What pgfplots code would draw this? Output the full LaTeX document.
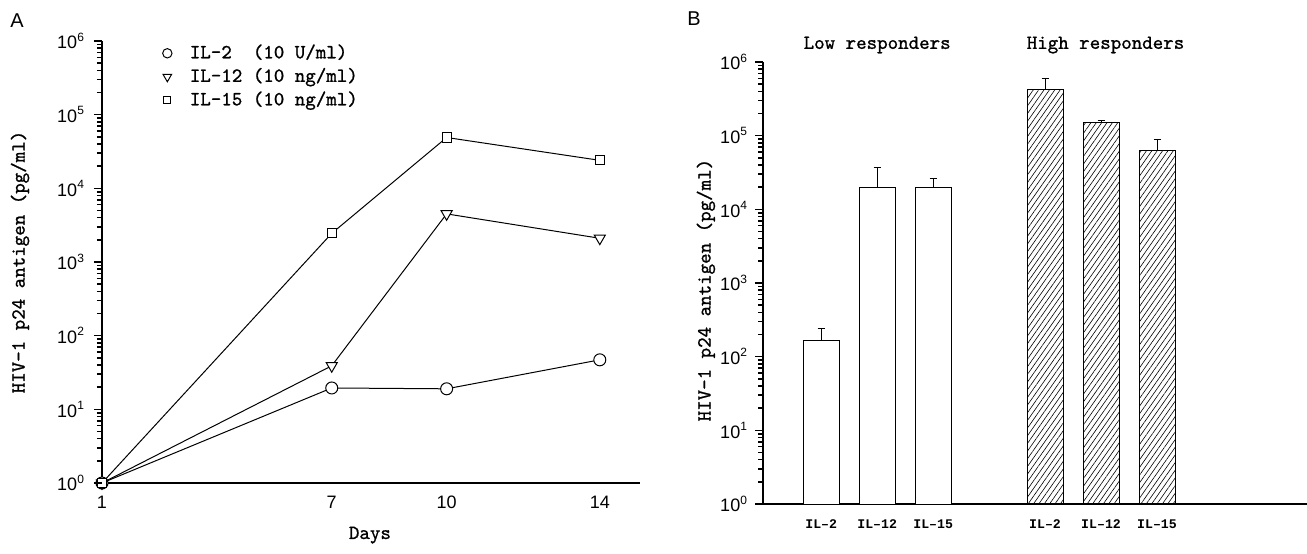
\documentclass[border=0pt]{standalone}
\usepackage{fontspec}
\setsansfont{Liberation Sans}
\newfontfamily\ilfont{Liberation Mono}
\newfontfamily\labfam{Latin Modern Mono}[FakeBold=1]
\usepackage{pgfplots}
\pgfplotsset{compat=1.18}
\usetikzlibrary{patterns.meta}

\newcommand{\labfont}{\fontsize{10}{12}\selectfont\labfam}
\newcommand{\numfont}{\fontsize{9}{10}\selectfont\sffamily}
\newcommand{\ilf}{\fontsize{6.6}{7}\selectfont\ilfont\bfseries}
\newcommand{\dec}[1]{10\textsuperscript{#1}}

% log tick comb on a y axis at (x0, bottom y0), height h (all in pt)
\newcommand{\logcomb}[3]{%
  \foreach \e in {0,...,5} {\foreach \m in {2,...,9} {%
    \pgfmathsetmacro\yy{#2+#3*(\e+ln(\m)/ln(10))/6}%
    \draw[line width=0.6pt] (#1pt,\yy pt) -- ++(-2.5pt,0);}}%
  \foreach \e in {0,...,6} {%
    \pgfmathsetmacro\yy{#2+#3*\e/6}%
    \draw[line width=0.7pt] (#1pt,\yy pt) -- ++(-4pt,0);}%
}

\pgfplotsset{
  legend image code/.code={%
    \draw[#1, only marks, every mark/.append style={scale=0.78}] plot coordinates {(0pt,0pt)};
    \path (0pt,0pt) (10pt,0pt);},
  every tick/.style={black, line width=0.8pt},
  every x tick/.style={draw=none},
}

\begin{document}
\begin{tikzpicture}
\useasboundingbox (0,0) rectangle (653.5pt,-276.5pt);

\node[font=\sffamily\fontsize{10}{10}\selectfont] at (8.5pt,-10.5pt) {A};
\node[font=\sffamily\fontsize{10}{10}\selectfont] at (347pt,-9.5pt) {B};

% ---------- panel A ----------
\begin{axis}[
    at={(51pt,-241.5pt)}, anchor=south west,
    scale only axis, width=269pt, height=221pt,
    ymode=log, ymin=1, ymax=1e6,
    xmin=1, xmax=15.05,
    axis x line=bottom, axis y line=left,
    axis line style={-, line width=0.6pt},
    clip=false,
    ytick={1,10,100,1000,10000,100000,1000000},
    yticklabels={\dec{0},\dec{1},\dec{2},\dec{3},\dec{4},\dec{5},\dec{6}},
    minor ytick={2,3,4,5,6,7,8,9,20,30,40,50,60,70,80,90,200,300,400,500,600,700,800,900,
      2000,3000,4000,5000,6000,7000,8000,9000,20000,30000,40000,50000,60000,70000,80000,90000,
      200000,300000,400000,500000,600000,700000,800000,900000},
    tick align=outside,
    major tick length=4pt, minor tick length=2.5pt,
    yticklabel style={font=\numfont, xshift=-1pt},
    xtick={1,7,10,14},
    xticklabels={1,7,10,14},
    xticklabel style={font=\numfont, anchor=north, yshift=1pt},
    xlabel={Days},
    xlabel style={font=\labfont, at={(axis description cs:0.498,-0.118)}, anchor=center},
    ylabel={HIV–1 p24 antigen (pg/ml)},
    ylabel style={font=\labfont, at={(axis description cs:-0.1524,0.5)}, anchor=center},
    legend style={draw=none, fill=none, font=\labfont,
      at={(axis description cs:0.112,0.998)}, anchor=north west,
      row sep=0.75pt, inner sep=0pt,
      nodes={inner sep=1pt, text height=7pt, text depth=2pt}},
    legend cell align=left,
  ]
\addplot[black, line width=0.5pt, mark=*, mark options={fill=white, mark size=3pt}]
  coordinates {(1,1) (7,19.5) (10,19) (14,47)};
\addplot[black, line width=0.5pt, mark=triangle*, mark options={fill=white, rotate=180, mark size=3.2pt}]
  coordinates {(1,1) (7,39) (10,4500) (14,2100)};
\addplot[black, line width=0.5pt, mark=square*, mark options={fill=white, mark size=2.3pt}]
  coordinates {(1,1) (7,2450) (10,49000) (14,24000)};
\legend{IL–2\ \ (10 U/ml), IL–12 (10 ng/ml), IL–15 (10 ng/ml)}
\end{axis}
\logcomb{51}{-241.5}{221}

% ---------- panel B ----------
\begin{axis}[
    at={(381.5pt,-252pt)}, anchor=south west,
    scale only axis, width=272pt, height=221pt,
    ymode=log, ymin=1, ymax=1e6,
    xmin=-1.04, xmax=8.68,
    axis x line=bottom, axis y line=left,
    axis line style={-, line width=0.6pt},
    clip=false,
    ytick={1,10,100,1000,10000,100000,1000000},
    yticklabels={\dec{0},\dec{1},\dec{2},\dec{3},\dec{4},\dec{5},\dec{6}},
    minor ytick={2,3,4,5,6,7,8,9,20,30,40,50,60,70,80,90,200,300,400,500,600,700,800,900,
      2000,3000,4000,5000,6000,7000,8000,9000,20000,30000,40000,50000,60000,70000,80000,90000,
      200000,300000,400000,500000,600000,700000,800000,900000},
    tick align=outside,
    major tick length=4pt, minor tick length=2.5pt,
    yticklabel style={font=\numfont},
    ybar, bar width=18pt, bar shift=0pt,
    xtick={0,1,2,4,5,6},
    xticklabels={IL–2,IL–12,IL–15,IL–2,IL–12,IL–15},
    xticklabel style={font=\ilf, anchor=north, yshift=-0.5pt},
    ylabel={HIV–1 p24 antigen (pg/ml)},
    ylabel style={font=\labfont, at={(axis description cs:-0.105,0.484)}, anchor=center},
  ]
\addplot[draw=black, fill=white, line width=0.5pt,
    error bars/.cd, y dir=plus, y explicit,
    error bar style={line width=0.5pt, black},
    error mark options={rotate=90, mark size=1.75pt, line width=0.5pt, black}]
  coordinates {(0,168) +- (0,77) (1,19500) +- (0,17500) (2,20000) +- (0,6500)};
\addplot[draw=black, line width=0.5pt,
    pattern={Lines[angle=55, distance=2.2pt, line width=0.3pt]},
    error bars/.cd, y dir=plus, y explicit,
    error bar style={line width=0.5pt, black},
    error mark options={rotate=90, mark size=1.75pt, line width=0.5pt, black}]
  coordinates {(4,427000) +- (0,163000) (5,153000) +- (0,9000) (6,62000) +- (0,27000)};
\node[font=\labfont] at (axis cs:1,1e6) [yshift=8.5pt] {Low responders};
\node[font=\labfont] at (axis cs:5.08,1e6) [yshift=8.5pt] {High responders};
\end{axis}
\logcomb{381.5}{-252}{221}
\end{tikzpicture}
\end{document}
